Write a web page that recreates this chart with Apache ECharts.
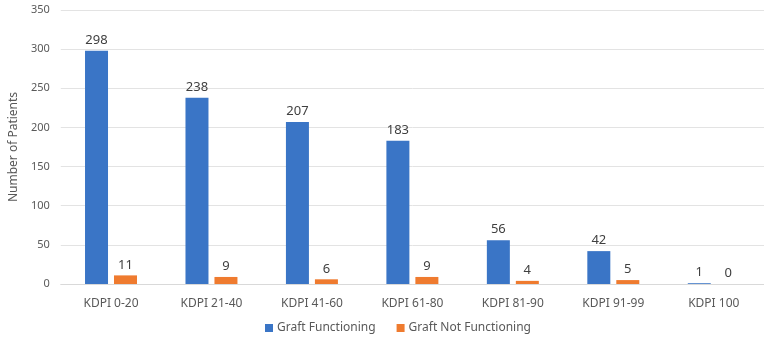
<!DOCTYPE html>
<html>
<head>
<meta charset="utf-8">
<script src="https://cdn.jsdelivr.net/npm/echarts@6/dist/echarts.min.js"></script>
<style>
  html, body { margin: 0; padding: 0; background: #fff; overflow: hidden; }
  #chart { width: 764px; height: 341px; }
</style>
</head>
<body>
<div id="chart"></div>
<script>
const categories = ['KDPI 0-20', 'KDPI 21-40', 'KDPI 41-60', 'KDPI 61-80', 'KDPI 81-90', 'KDPI 91-99', 'KDPI 100'];
const graftFunctioning = [298, 238, 207, 183, 56, 42, 1];
const graftNotFunctioning = [11, 9, 6, 9, 4, 5, 0];
const yTicks = { min: 0, max: 350, interval: 50 };

const FONT = '"Noto Sans", "Open Sans", sans-serif';
const chart = echarts.init(document.getElementById('chart'));

const labelStyle = {
  show: true,
  position: 'top',
  distance: 4,
  color: '#404040',
  fontSize: 13,
  fontFamily: FONT
};

chart.setOption({
  animation: false,
  textStyle: { fontFamily: FONT },
  // plot area runs slightly past the right edge of the canvas
  grid: { left: 54, width: 723, top: 10, bottom: 57 },
  legend: {
    bottom: 2,
    left: 260,
    itemWidth: 8,
    itemHeight: 8,
    itemGap: 21,
    icon: 'rect',
    textStyle: { color: '#595959', fontSize: 12, fontFamily: FONT, padding: [0, 0, 0, -1] },
    data: ['Graft Functioning', 'Graft Not Functioning']
  },
  xAxis: {
    type: 'category',
    data: categories,
    axisTick: { show: false },
    axisLine: { lineStyle: { color: '#d9d9d9', width: 1 } },
    axisLabel: { color: '#595959', fontSize: 12, margin: 14, fontFamily: FONT }
  },
  yAxis: {
    type: 'value',
    min: yTicks.min,
    max: yTicks.max,
    interval: yTicks.interval,
    name: 'Number of Patients',
    nameLocation: 'middle',
    nameGap: 36,
    nameTextStyle: { color: '#595959', fontSize: 12, fontFamily: FONT },
    axisLine: { show: false },
    axisTick: { show: false },
    axisLabel: { color: '#595959', fontSize: 11, margin: 11, fontFamily: FONT },
    splitLine: { lineStyle: { color: '#e3e3e3', width: 1 } }
  },
  series: [
    {
      name: 'Graft Functioning',
      type: 'bar',
      data: graftFunctioning,
      barWidth: 23,
      barGap: '26%',
      itemStyle: { color: '#3a75c6' },
      label: labelStyle
    },
    {
      name: 'Graft Not Functioning',
      type: 'bar',
      data: graftNotFunctioning,
      barWidth: 23,
      itemStyle: { color: '#ef7b2f' },
      label: labelStyle
    }
  ]
});
</script>
</body>
</html>
